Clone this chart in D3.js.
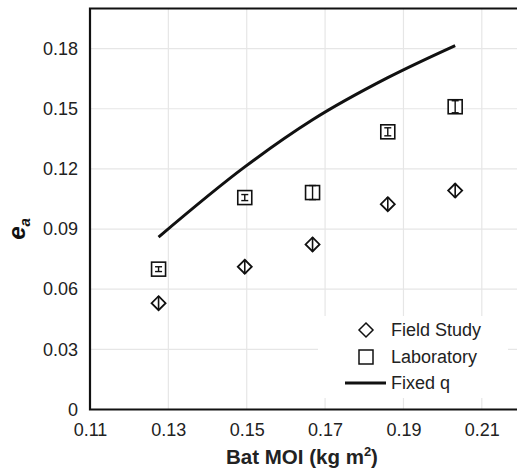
<!DOCTYPE html>
<html>
<head>
<meta charset="utf-8">
<script src="https://cdn.jsdelivr.net/npm/d3@7"></script>
<style>
  body { margin: 0; background: #fff; }
  svg { display: block; font-family: "Liberation Sans", Arial, sans-serif; }
</style>
</head>
<body>
<svg id="chart" width="517" height="473"></svg>
<script>
// chart data
const moi = [0.1275, 0.1495, 0.1668, 0.186, 0.2032];
const fieldStudy = [0.053, 0.0712, 0.0823, 0.1024, 0.1092];
const fieldErr = [0.003, 0.003, 0.003, 0.003, 0.003];
const laboratory = [0.070, 0.1057, 0.1082, 0.1385, 0.151];
const labErr = [0.0012, 0.0015, 0.0035, 0.002, 0.003];
const fixedQ = [0.086, 0.121, 0.1445, 0.1655, 0.1815];
const xTicks = [0.11, 0.13, 0.15, 0.17, 0.19, 0.21];
const yTicks = [0, 0.03, 0.06, 0.09, 0.12, 0.15, 0.18];
const legendItems = ["Field Study", "Laboratory", "Fixed q"];

const svg = d3.select("#chart");
const m = { left: 90, top: 8.5, right: 521, bottom: 409.5 };

const x = d3.scaleLinear().domain([0.11, 0.22]).range([m.left, m.right]);
const y = d3.scaleLinear().domain([0, 0.2]).range([m.bottom, m.top]);

// grid
const grid = svg.append("g").attr("stroke", "#e6e6e6").attr("stroke-width", 1.2);
grid.selectAll(".vx").data(xTicks.slice(1)).join("line")
  .attr("x1", d => x(d)).attr("x2", d => x(d))
  .attr("y1", m.top).attr("y2", m.bottom);
grid.selectAll(".hy").data(yTicks.slice(1)).join("line")
  .attr("x1", m.left).attr("x2", m.right)
  .attr("y1", d => y(d)).attr("y2", d => y(d));

// axes
const xAxis = svg.append("g").attr("transform", `translate(0,${m.bottom})`)
  .call(d3.axisBottom(x).tickValues(xTicks).tickSize(0).tickFormat(d3.format(".2f")));
const yAxis = svg.append("g").attr("transform", `translate(${m.left},0)`)
  .call(d3.axisLeft(y).tickValues(yTicks).tickSize(0).tickPadding(12)
    .tickFormat(d => d === 0 ? "0" : d3.format(".2f")(d)));
[xAxis, yAxis].forEach(a => {
  a.select(".domain").remove();
  a.selectAll("text").attr("font-size", 18).attr("fill", "#222")
    .attr("font-family", "'Liberation Sans', Arial, sans-serif");
});
xAxis.selectAll("text").attr("y", 26).attr("dy", 0);

// frame: left, bottom, top
svg.append("path")
  .attr("d", `M${m.right},${m.top}H${m.left}V${m.bottom}H${m.right}`)
  .attr("fill", "none").attr("stroke", "#111").attr("stroke-width", 2.2);

// fixed q line
const line = d3.line().x((d, i) => x(moi[i])).y(d => y(d)).curve(d3.curveMonotoneX);
svg.append("path").datum(fixedQ).attr("d", line)
  .attr("fill", "none").attr("stroke", "#111").attr("stroke-width", 3);

// error bar helper
function errBar(g, cx, v, e, cap) {
  const y1 = y(v - e), y2 = y(v + e);
  g.append("line").attr("x1", cx).attr("x2", cx).attr("y1", y1).attr("y2", y2);
  g.append("line").attr("x1", cx - cap).attr("x2", cx + cap).attr("y1", y1).attr("y2", y1);
  g.append("line").attr("x1", cx - cap).attr("x2", cx + cap).attr("y1", y2).attr("y2", y2);
}

// laboratory squares
const labG = svg.append("g").attr("stroke", "#111").attr("fill", "none");
laboratory.forEach((v, i) => {
  const cx = x(moi[i]), cy = y(v);
  labG.append("rect").attr("x", cx - 7).attr("y", cy - 7).attr("width", 14).attr("height", 14)
    .attr("fill", "#fff").attr("stroke-width", 1.6);
  errBar(labG.append("g").attr("stroke-width", 1.4), cx, v, labErr[i], 3.5);
});

// field study diamonds
const fieldG = svg.append("g").attr("stroke", "#111").attr("fill", "none");
fieldStudy.forEach((v, i) => {
  const cx = x(moi[i]), cy = y(v);
  fieldG.append("path")
    .attr("d", `M${cx},${cy - 7}L${cx + 7},${cy}L${cx},${cy + 7}L${cx - 7},${cy}Z`)
    .attr("fill", "#fff").attr("stroke-width", 1.8);
  errBar(fieldG.append("g").attr("stroke-width", 1.6), cx, v, fieldErr[i], 1.5);
});

// legend
const lg = svg.append("g");
lg.append("rect").attr("x", 318).attr("y", 316).attr("width", 190).attr("height", 82).attr("fill", "#fff");
const ly = [330, 357, 383];
legendItems.forEach((t, i) => {
  lg.append("text").attr("x", 391).attr("y", ly[i]).attr("dy", "0.36em")
    .attr("font-size", 18).attr("fill", "#222").text(t);
});
lg.append("path").attr("d", `M366,${ly[0] - 7}L373,${ly[0]}L366,${ly[0] + 7}L359,${ly[0]}Z`)
  .attr("fill", "none").attr("stroke", "#111").attr("stroke-width", 1.5);
lg.append("rect").attr("x", 359).attr("y", ly[1] - 7).attr("width", 14).attr("height", 14)
  .attr("fill", "none").attr("stroke", "#111").attr("stroke-width", 1.5);
lg.append("line").attr("x1", 345).attr("x2", 386).attr("y1", ly[2]).attr("y2", ly[2])
  .attr("stroke", "#111").attr("stroke-width", 3);

// axis titles
const xt = svg.append("text").attr("x", 302).attr("y", 464).attr("text-anchor", "middle")
  .attr("font-size", 20.5).attr("font-weight", "bold").attr("fill", "#222");
xt.append("tspan").text("Bat MOI (kg m");
xt.append("tspan").attr("font-size", 13).attr("dy", -8).text("2");
xt.append("tspan").attr("dy", 8).text(")");

const yt = svg.append("text").attr("transform", "translate(25,229) rotate(-90)")
  .attr("text-anchor", "middle").attr("font-size", 24).attr("font-weight", "bold")
  .attr("font-style", "italic").attr("fill", "#111");
yt.append("tspan").text("e");
yt.append("tspan").attr("font-size", 15).attr("dy", 5).text("a");
</script>
</body>
</html>
